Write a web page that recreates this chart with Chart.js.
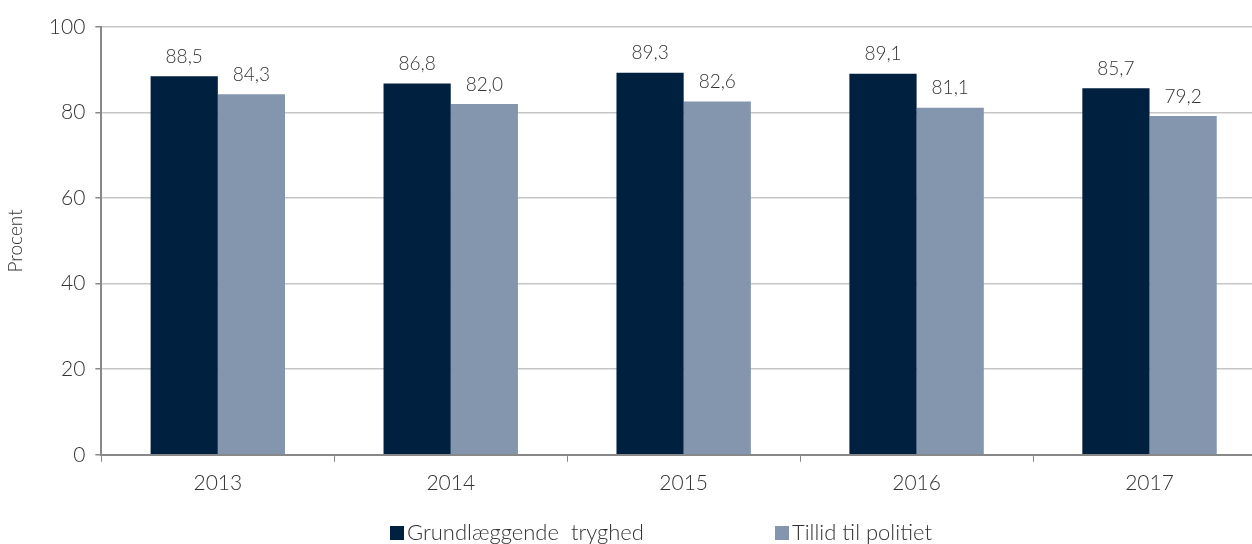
<!DOCTYPE html>
<html>
<head>
<meta charset="utf-8">
<script src="https://cdn.jsdelivr.net/npm/chart.js@4"></script>
<style>
  body { margin: 0; overflow: hidden; background: #fff; }
  #wrap { width: 1266px; height: 544px; }
</style>
</head>
<body>
<div id="wrap"><canvas id="myChart"></canvas></div>
<script>
// data
var years = ["2013", "2014", "2015", "2016", "2017"];
var tryghed = [88.5, 86.8, 89.3, 89.1, 85.7];
var tillid = [84.3, 82.0, 82.6, 81.1, 79.2];
var seriesNames = ["Grundlæggende  tryghed", "Tillid til politiet"];
var colors = ["#00203F", "#8396AE"];

var FONT = "Lato, 'Open Sans', sans-serif";

// labels over the bars, "88,5" style
var barLabels = {
  id: 'barLabels',
  afterDatasetsDraw: function (chart) {
    var ctx = chart.ctx;
    ctx.save();
    ctx.font = "300 19px " + FONT;
    ctx.fillStyle = "#333";
    ctx.textAlign = "center";
    ctx.textBaseline = "bottom";
    chart.data.datasets.forEach(function (ds, i) {
      chart.getDatasetMeta(i).data.forEach(function (bar, j) {
        ctx.fillText(ds.data[j].toFixed(1).replace(".", ","), bar.x, bar.y - 10);
      });
    });
    ctx.restore();
  }
};

// legend at the bottom, wide gap between the two items
var bottomLegend = {
  id: 'bottomLegend',
  afterDraw: function (chart) {
    var ctx = chart.ctx;
    var xs = [390, 775];
    var y = 533;
    ctx.save();
    ctx.font = "300 22px " + FONT;
    ctx.textBaseline = "middle";
    chart.data.datasets.forEach(function (ds, i) {
      ctx.fillStyle = ds.backgroundColor;
      ctx.fillRect(xs[i], y - 7, 14, 14);
      ctx.fillStyle = "#333";
      ctx.fillText(ds.label, xs[i] + 17, y);
    });
    ctx.restore();
  }
};

var ctx = document.getElementById("myChart").getContext('2d');
var myChart = new Chart(ctx, {
  type: 'bar',
  data: {
    labels: years,
    datasets: [{
      label: seriesNames[0],
      data: tryghed,
      backgroundColor: colors[0]
    }, {
      label: seriesNames[1],
      data: tillid,
      backgroundColor: colors[1]
    }]
  },
  options: {
    responsive: true,
    maintainAspectRatio: false,
    animation: false,
    layout: { padding: { top: 27, left: 0, right: 0, bottom: 39 } },
    datasets: {
      bar: { barPercentage: 1, categoryPercentage: 0.577 }
    },
    scales: {
      x: {
        grid: { drawOnChartArea: false, color: "#888", tickLength: 7, offset: true },
        border: { color: "#888", width: 2 },
        ticks: { color: "#333", font: { family: FONT, size: 21, weight: 300 }, padding: 9 }
      },
      y: {
        min: 0,
        max: 100,
        ticks: { stepSize: 20, color: "#333", font: { family: FONT, size: 21, weight: 300 }, padding: 10 },
        grid: { color: "#c6c6c6", tickColor: "#888", tickLength: 6, lineWidth: 1.5 },
        border: { color: "#888", width: 2 },
        title: { display: true, text: "Procent", color: "#333", font: { family: FONT, size: 19, weight: 300 }, padding: { bottom: 12 } }
      }
    },
    plugins: {
      legend: { display: false },
      tooltip: { enabled: false }
    }
  },
  plugins: [barLabels, bottomLegend]
});
</script>
</body>
</html>
